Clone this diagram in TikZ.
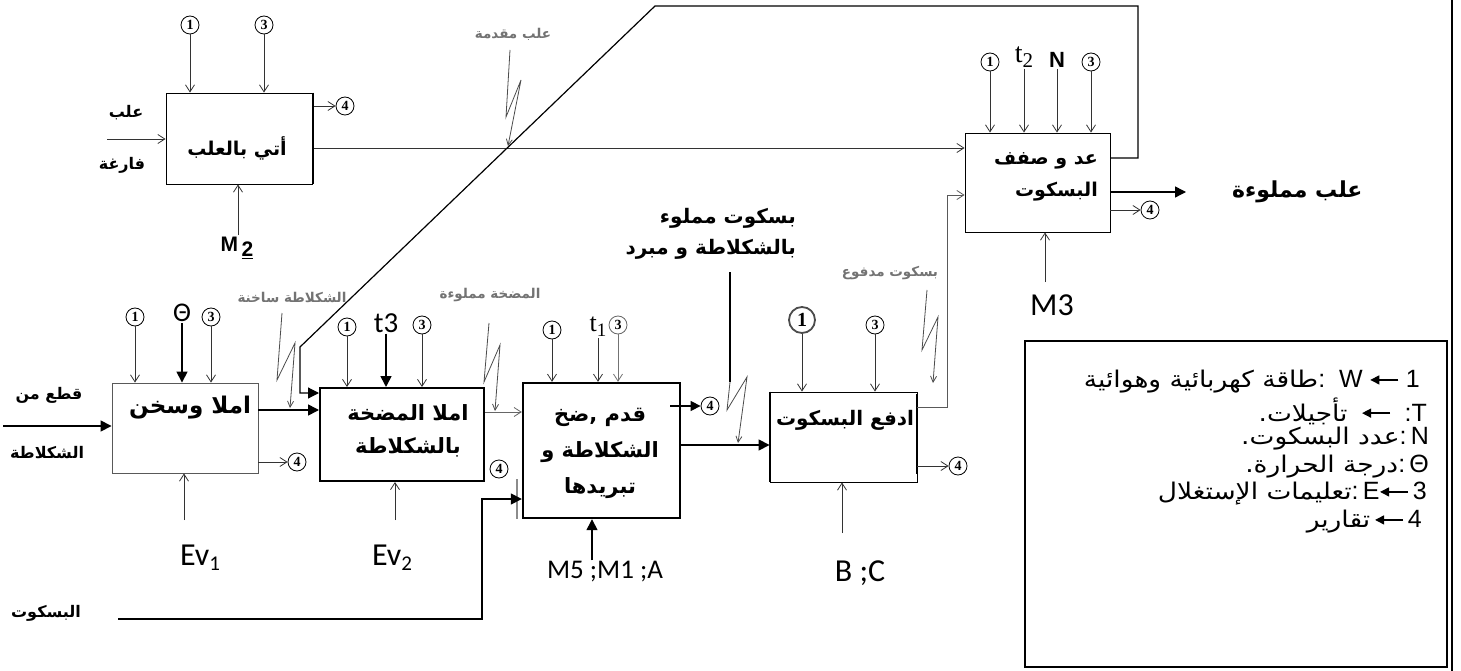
\documentclass[tikz,border=0pt]{standalone}
\usepackage{fontspec}
\usetikzlibrary{arrows.meta}
\TeXXeTstate=1
\setmainfont{Liberation Sans}
\newfontfamily\arf[Script=Arabic]{DejaVu Sans}
\newfontfamily\arl[Script=Arabic, FakeStretch=1.15]{DejaVu Sans}
\newfontfamily\calf{Carlito}
\newfontfamily\serf{Liberation Serif}
\newcommand\AR[1]{\beginR #1\endR}
\newcommand\fs[1]{\fontsize{#1}{#1}\selectfont}
\newcommand\lgarr{\tikz[baseline=-8pt]{\draw[line width=1.3pt,-{Triangle[length=9pt,width=9pt]}] (28pt,0pt)--(0pt,0pt);}}
\tikzset{
  boxst/.style={draw, line width=0.9pt, inner sep=0pt},
  cn/.style={circle, draw, line width=0.8pt, inner sep=0pt, minimum size=18pt, font=\serf\bfseries\fs{14}},
  thinl/.style={draw=black!80, line width=0.8pt},
  oarr/.style={thinl, -{Straight Barb[length=7pt,width=9pt]}},
  farr/.style={draw=black, line width=1.6pt, -{Triangle[length=11pt,width=11pt]}},
  lbl/.style={font=\arf\bfseries\fs{19}, inner sep=0pt},
  small/.style={font=\arf\bfseries\fs{13.5}, text=black!55, inner sep=0pt},
  lat/.style={font=\calf\fs{32}, inner sep=1pt},
  bolt/.style={draw=black!70, line width=0.8pt, -{Straight Barb[length=6pt,width=6pt]}},
  lg/.style={anchor=east, font=\fs{25}, inner sep=0pt},
}
\begin{document}
\begin{tikzpicture}[x=1pt,y=-1pt]
\fill[white] (0,0) rectangle (1461,671);
\useasboundingbox (0,0) rectangle (1461,671);

% ---------- boxes
\node[boxst, minimum width=146pt, minimum height=91pt] (A) at (239,138.5) {};
\draw[line width=2.2pt] ([xshift=0.5pt]A.north east) -- ([xshift=0.5pt]A.south east);
\node[lbl] (At) at (237,148) {\AR{أتي بالعلب}};

\node[boxst, draw=black!65, minimum width=146pt, minimum height=90pt] (B) at (185,428) {};
\node[lbl, font=\arf\bfseries\fs{23}] (Bt) at (190,408) {\AR{املا وسخن}};

\node[boxst, line width=2pt, minimum width=164pt, minimum height=93pt] (C) at (402,434.5) {};
\node[lbl, font=\arf\bfseries\fs{21}, align=center] (Ct) at (408,431) {\AR{املا المضخة}\\[12pt]\AR{بالشكلاطة}};

\node[boxst, line width=2.4pt, minimum width=157pt, minimum height=135pt] (D) at (601.5,450.5) {};
\draw[draw=black!45, line width=1.5pt] ([xshift=-5pt,yshift=40pt]D.south west) -- ([xshift=-5pt]D.south west);
\node[lbl, font=\arf\bfseries\fs{21}, align=center] (Dt) at (600,453) {\AR{قدم ,ضخ}\\[14pt]\AR{الشكلاطة و}\\[14pt]\AR{تبريدها}};

\node[boxst, minimum width=147pt, minimum height=90pt] (F) at (843.5,437) {};
\draw[line width=2pt] (F.north west) -- (F.south west);
\draw[line width=2pt] ([yshift=-2pt]F.north east) -- ([yshift=-4pt]F.east |- 0,470);
\node[lbl, font=\arf\bfseries\fs{20}] (Ft) at (845,420) {\AR{ادفع البسكوت}};

\node[boxst, minimum width=145pt, minimum height=99pt] (E) at (1037.5,182.5) {};
\node[lbl, anchor=east, align=right] (Et) at (1098,177) {\AR{عد و صفف}\\[12pt]\AR{البسكوت}};

% ---------- box A connections
\node[cn] (a1) at (190,25) {1};
\node[cn] (a3) at (264,25) {3};
\draw[oarr] (a1) -- (a1 |- A.north);
\draw[oarr] (a3) -- (a3 |- A.north);
\node[cn] (a4) at (345,106) {4};
\draw[oarr] ([xshift=2pt]A.east |- a4) -- (a4.west);
\node[lbl, font=\arf\bfseries\fs{16}] (ain1) at (126,113) {\AR{علب}};
\node[lbl, font=\arf\bfseries\fs{16}] (ain2) at (122,165) {\AR{فارغة}};
\coordinate (ain) at (107,139);
\draw[oarr] (ain) -- (ain -| A.west);
\node[inner sep=2pt, font=\bfseries\fs{21}] (m2) at (237,248) {M\,\raisebox{-5pt}{\underline{2}}};
\draw[oarr] (m2.north -| 238,0) -- (238,0 |- A.south);
\coordinate (ya) at (0,148);
\draw[oarr] ([xshift=2pt]A.east |- ya) -- (E.west |- ya);

% lightning "علب مقدمة"
\node[small] (l1) at (513,34) {\AR{علب مقدمة}};
\coordinate (l1a) at (510,50); \coordinate (l1b) at (506,117);
\coordinate (l1c) at (521,80); \coordinate (l1d) at (508,146);
\draw[bolt] (l1a) -- (l1b) -- (l1c) -- (l1d);

% feedback line from E to C
\coordinate (fbA) at (1138,158); \coordinate (fbB) at (1138,6);
\coordinate (fbC) at (655,6); \coordinate (fbD) at (300,347);
\coordinate (fbE) at (300,393);
\draw[farr, line width=1.2pt] (E.east |- fbA) -- (fbA) -- (fbB) -- (fbC) -- (fbD) -- (fbE) -- (fbE -| C.west);

% ---------- box B connections
\node[cn] (b1) at (135,317) {1};
\node[lat, font=\calf\fs{27}] (bth) at (182,313) {Θ};
\node[cn] (b3) at (211,317) {3};
\draw[oarr] (b1) -- (b1 |- B.north);
\draw[farr] (bth) -- (bth |- B.north);
\draw[oarr] (b3) -- (b3 |- B.north);
\node[lbl, font=\arf\bfseries\fs{16}] (bin1) at (49,395) {\AR{قطع من}};
\node[lbl, font=\arf\bfseries\fs{16}] (bin2) at (47,453) {\AR{الشكلاطة}};
\coordinate (bin) at (3,426);
\draw[farr] (bin) -- (bin -| B.west);
\coordinate (yb) at (0,410);
\draw[farr] (B.east |- yb) -- (C.west |- yb);
\node[cn] (b4) at (297,462) {4};
\draw[oarr] (B.east |- b4) -- (b4.west);
\node[lat] (ev1) at (200,558) {Ev\raisebox{-5pt}{\fs{21}1}};
\coordinate (ev1a) at (184,520);
\draw[oarr] (ev1a) -- (ev1a |- B.south);
\node[small] (l2) at (292,297) {\AR{الشكلاطة ساخنة}};
\coordinate (l2a) at (282,313); \coordinate (l2b) at (277,380);
\coordinate (l2c) at (295,343); \coordinate (l2d) at (290,408);
\draw[bolt] (l2a) -- (l2b) -- (l2c) -- (l2d);

% biscuit input
\node[lbl, font=\arf\bfseries\fs{16}] (bsk) at (46,613) {\AR{البسكوت}};
\coordinate (bk0) at (118,619); \coordinate (bk1) at (482,619); \coordinate (bk2) at (482,499);
\draw[farr, line width=1.5pt] (bk0) -- (bk1) -- (bk2) -- (bk2 -| D.west);

% ---------- box C connections
\node[cn] (c1) at (347,327) {1};
\node[lat, font=\calf\fs{29}] (ct3) at (386,323) {t3};
\node[cn] (c3) at (422,325) {3};
\draw[oarr] (c1) -- (c1 |- C.north);
\draw[farr] (ct3) -- (ct3 |- C.north);
\draw[oarr] (c3) -- (c3 |- C.north);
\node[cn] (c4) at (499,469) {4};
\node[lat] (ev2) at (392,558) {Ev\raisebox{-5pt}{\fs{21}2}};
\coordinate (ev2a) at (395,520);
\draw[oarr] (ev2a) -- (ev2a |- C.south);
\coordinate (yc) at (0,412);
\draw[oarr, draw=black!60] (C.east |- yc) -- (D.west |- yc);
\node[small] (l3) at (490,295) {\AR{المضخة مملوءة}};
\coordinate (l3a) at (489,323); \coordinate (l3b) at (484,382);
\coordinate (l3c) at (500,345); \coordinate (l3d) at (495,411);
\draw[bolt] (l3a) -- (l3b) -- (l3c) -- (l3d);

% ---------- box D connections
\node[cn] (d1) at (552,330) {1};
\node[inner sep=1pt, font=\serf\fs{26}] (dt1) at (598,327) {t\raisebox{-5pt}{\fs{19}1}};
\node[cn, draw=black!60] (d3) at (618,325) {3};
\draw[oarr] (d1) -- (d1 |- D.north);
\draw[oarr] (dt1) -- (dt1 |- D.north);
\draw[oarr, draw=black!55] (d3) -- (d3 |- D.north);
\node[cn] (d4) at (710,406) {4};
\coordinate (d4a) at (670,406);
\draw[farr, line width=1.3pt, -{Triangle[length=10pt,width=10pt]}] (d4a) -- (d4.west);
\coordinate (yd) at (0,445);
\draw[farr] (D.east |- yd) -- (F.west |- yd);
\node[lat, font=\calf\fs{27}] (dm) at (605,572) {M5 ;M1 ;A};
\draw[farr, line width=1.4pt] (dm.north -| 592,0) -- (592,0 |- D.south);

% filled biscuit label
\node[lbl, font=\arf\bfseries\fs{20}, align=right, anchor=east] (bf) at (796,234) {\AR{بسكوت مملوء}\\[10pt]\AR{بالشكلاطة و مبرد}};
\coordinate (v1) at (730,272); \coordinate (v2) at (730,382);
\coordinate (v3) at (727,410); \coordinate (v4) at (747,377); \coordinate (v5) at (738,443);
\draw[line width=1.6pt] (v1) -- (v2);
\draw[bolt] (v2) -- (v3) -- (v4) -- (v5);

% ---------- box F (ادفع) connections
\node[cn, line width=1.8pt, draw=black!70, minimum size=26pt, font=\serf\bfseries\fs{20}] (f1) at (802,320) {1};
\node[cn] (f3) at (875,325) {3};
\draw[oarr] (f1) -- (f1 |- F.north);
\draw[oarr] (f3) -- (f3 |- F.north);
\node[cn] (f4) at (958,466) {4};
\draw[oarr] (F.east |- f4) -- (f4.west);
\node[lat] (bc) at (860,573) {B ;C};
\coordinate (bca) at (842,533);
\draw[oarr] (bca) -- (bca |- F.south);
\coordinate (yf) at (0,407); \coordinate (fx1) at (947,407); \coordinate (fx2) at (947,195);
\draw[oarr, draw=black!65] (F.east |- yf) -- (fx1) -- (fx2) -- (fx2 -| E.west);
\node[small] (l5) at (890,273) {\AR{بسكوت مدفوع}};
\coordinate (l5a) at (927,290); \coordinate (l5b) at (922,350);
\coordinate (l5c) at (938,317); \coordinate (l5d) at (933,383);
\draw[bolt] (l5a) -- (l5b) -- (l5c) -- (l5d);

% ---------- box E connections
\node[cn] (e1) at (990,62) {1};
\node[inner sep=1pt, font=\serf\fs{28}] (et2) at (1024,57) {t\raisebox{-5pt}{\fs{21}2}};
\node[inner sep=1pt, font=\bfseries\fs{22}] (en) at (1057,60) {N};
\node[cn] (e3) at (1091,62) {3};
\draw[oarr] (e1) -- (e1 |- E.north);
\draw[oarr] (et2) -- (et2 |- E.north);
\draw[oarr] (en) -- (en |- E.north);
\draw[oarr] (e3) -- (e3 |- E.north);
\node[cn] (e4) at (1150,210) {4};
\draw[oarr] (E.east |- e4) -- (e4.west);
\node[lbl, font=\arf\bfseries\fs{22}, anchor=west] (full) at (1232,192) {\AR{علب مملوءة}};
\coordinate (ye) at (0,192); \coordinate (fe) at (1186,192);
\draw[farr, line width=1.4pt] (E.east |- ye) -- (fe);
\node[lat] (m3) at (1052,305) {M3};
\coordinate (m3a) at (1045,282);
\draw[oarr] (m3a) -- (m3a |- E.south);

% ---------- legend
\draw[line width=1.5pt] (1452,0) -- (1452,671);
\node[draw, line width=1.2pt, minimum width=422pt, minimum height=326pt, inner sep=0pt] (leg) at (1236,504) {};
\node[lg] (L1) at (1420,382) {{\arl\fs{23}\AR{طاقة كهربائية وهوائية}}:\ \ W\ \lgarr\ 1};
\node[lg] (L2) at (1427,411) {{\arl\fs{23}\AR{تأجيلات.}}\ \ \lgarr\ \ :T};
\node[lg] (L3) at (1429,439) {{\arl\fs{23}\AR{عدد البسكوت.}}:\,N};
\node[lg] (L4) at (1429,467) {{\arl\fs{23}\AR{درجة الحرارة.}}:\,Θ};
\node[lg] (L5) at (1427,494) {{\arl\fs{23}\AR{تعليمات الإستغلال}}:\,E\lgarr\,3};
\node[lg] (L6) at (1422,522) {{\arl\fs{23}\AR{تقارير}}\,\lgarr\,4};
\end{tikzpicture}
\end{document}
